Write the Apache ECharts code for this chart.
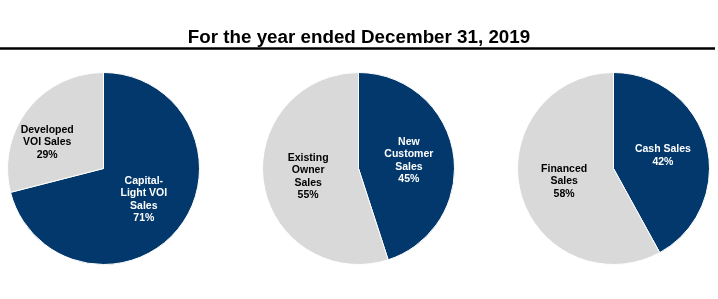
<!DOCTYPE html>
<html>
<head>
<meta charset="utf-8">
<script src="https://cdn.jsdelivr.net/npm/echarts@6/dist/echarts.min.js"></script>
<style>
html,body{margin:0;padding:0;background:#fff;}
#chart{width:718px;height:299px;}
</style>
</head>
<body>
<div id="chart"></div>
<script>
var titleText = "For the year ended December 31, 2019";

var pie1Names = ["Capital-\nLight VOI\nSales", "Developed\nVOI Sales"];
var pie1Values = [71, 29];

var pie2Names = ["New\nCustomer\nSales", "Existing\nOwner\nSales"];
var pie2Values = [45, 55];

var pie3Names = ["Cash Sales", "Financed\nSales"];
var pie3Values = [42, 58];

var DARK = "#02386B";
var LIGHT = "#D9D9D9";

function makeData(names, values) {
  return names.map(function (n, i) {
    return {
      name: n,
      value: values[i],
      itemStyle: { color: i === 0 ? DARK : LIGHT },
      label: { color: i === 0 ? "#ffffff" : "#000000" }
    };
  });
}

function makePie(names, values, cx, extra) {
  var s = {
    type: "pie",
    center: [cx, 168.5],
    radius: [0, 96],
    startAngle: 90,
    clockwise: true,
    silent: true,
    animation: false,
    itemStyle: { borderColor: "#ffffff", borderWidth: 1 },
    label: {
      show: true,
      position: "inside",
      formatter: "{b}\n{c}%",
      fontFamily: "Liberation Sans, Arial, sans-serif",
      fontWeight: "bold",
      fontSize: 10.5,
      lineHeight: 12.5,
      align: "center"
    },
    labelLine: { show: false },
    data: makeData(names, values)
  };
  if (extra) { for (var k in extra) s[k] = extra[k]; }
  return s;
}

var chart = echarts.init(document.getElementById("chart"), null, { renderer: "canvas" });
chart.setOption({
  backgroundColor: "#ffffff",
  title: {
    text: titleText,
    left: "center",
    top: 23,
    textStyle: {
      fontFamily: "Liberation Sans, Arial, sans-serif",
      fontWeight: "bold",
      fontSize: 18.8,
      color: "#000000"
    }
  },
  graphic: [{
    type: "line",
    shape: { x1: 0, y1: 48.5, x2: 715, y2: 48.5 },
    style: { stroke: "#000000", lineWidth: 2.5 }
  }],
  series: [
    makePie(pie1Names, pie1Values, 103.5, {
      labelLayout: function (p) { if (p.dataIndex === 1) return { dx: -16, dy: 5 }; return {}; }
    }),
    makePie(pie2Names, pie2Values, 358.5),
    makePie(pie3Names, pie3Values, 613.5)
  ]
});
</script>
</body>
</html>
